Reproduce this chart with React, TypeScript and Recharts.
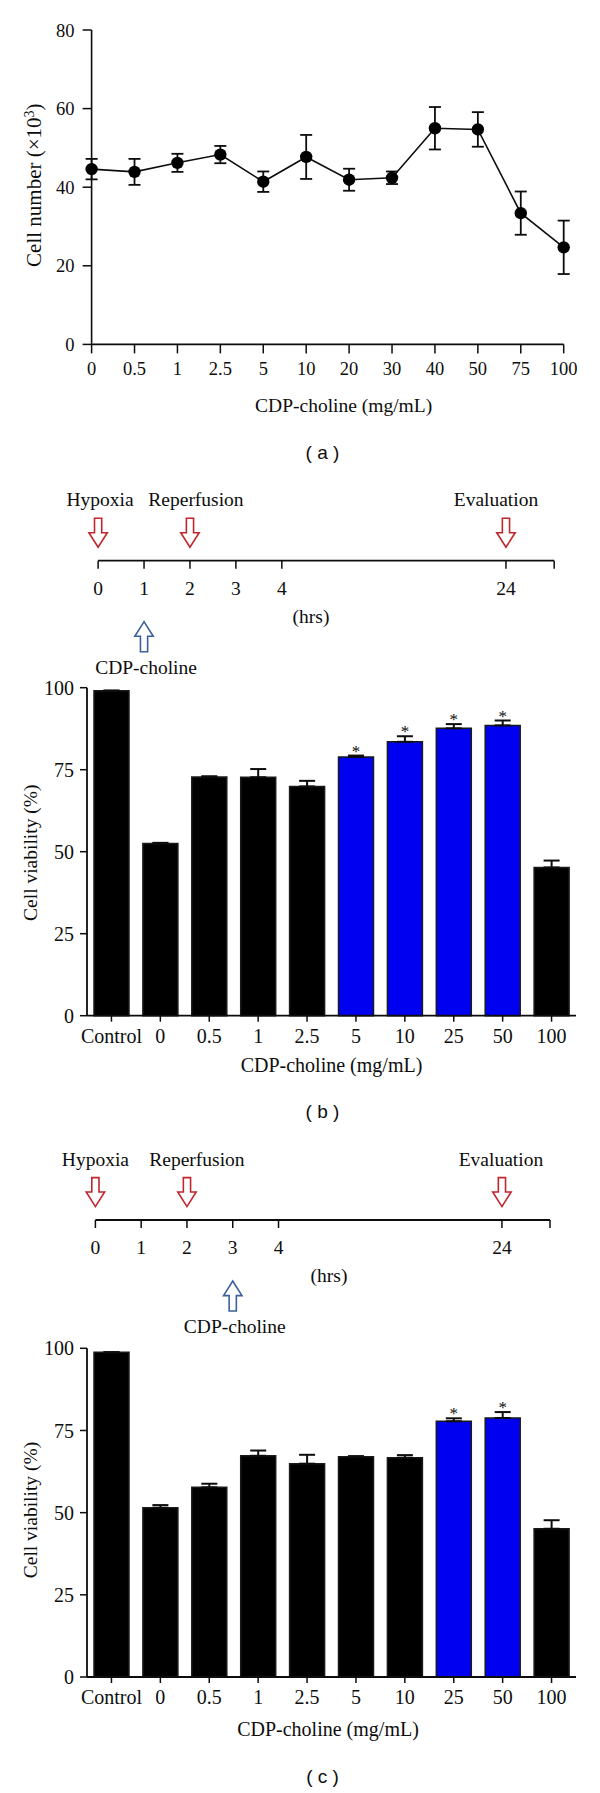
import React from 'react';
import {
  LineChart,
  Line,
  BarChart,
  Bar,
  Cell,
  ComposedChart,
  Scatter,
  XAxis,
  YAxis,
  ErrorBar,
  LabelList,
  Label,
} from 'recharts';

// (a) cell number after 24 h at each dose
const dosesA = ['0', '0.5', '1', '2.5', '5', '10', '20', '30', '40', '50', '75', '100'];
const cellNumber = [44.6, 43.9, 46.2, 48.3, 41.4, 47.7, 41.9, 42.4, 55.0, 54.7, 33.4, 24.7];
const cellNumberErr = [2.6, 3.3, 2.3, 2.2, 2.6, 5.6, 2.8, 1.6, 5.4, 4.4, 5.5, 6.8];
const yTicksA = [0, 20, 40, 60, 80];

// (b) and (c) viability after hypoxia / reperfusion
const dosesBar = ['Control', '0', '0.5', '1', '2.5', '5', '10', '25', '50', '100'];
const viabilityB = [99.1, 52.5, 72.8, 72.7, 69.9, 78.9, 83.5, 87.6, 88.5, 45.2];
const viabilityBErr = [0, 0.2, 0.2, 2.5, 1.7, 0.4, 1.7, 1.3, 1.5, 2.1];
const significantB = ['5', '10', '25', '50'];
const viabilityC = [98.8, 51.5, 57.7, 67.3, 64.9, 67.0, 66.7, 77.8, 78.8, 45.1];
const viabilityCErr = [0, 0.8, 1.1, 1.6, 2.7, 0.2, 0.8, 0.9, 1.8, 2.6];
const significantC = ['25', '50'];
const yTicksBar = [0, 25, 50, 75, 100];

// timelines: axis is broken between 4 h and 24 h
const hourLabels = ['0', '1', '2', '3', '4', '24'];
const hourSlots = [0, 1, 2, 3, 4, 8.88];
const axisEndSlot = 9.93;
const eventNames = ['Hypoxia', 'Reperfusion', 'Evaluation'];
const eventHours = ['0', '2', '24'];
const treatHourB = '1';
const treatHourC = '3';

const SERIF = '"Liberation Serif", "Times New Roman", serif';
const SANS = '"Liberation Sans", Arial, sans-serif';
const INK = '#0d0d0d';
const BAR_BLUE = '#0000f0';
const ARROW_RED = '#c0262d';
const ARROW_BLUE = '#3d5f9a';

const rowsA = dosesA.map((d, i) => ({ dose: d, mean: cellNumber[i], err: cellNumberErr[i] }));

function barRows(values: number[], errs: number[], sig: string[]) {
  return dosesBar.map((d, i) => ({
    dose: d,
    value: values[i],
    err: [0, errs[i]],
    sig: sig.includes(d),
  }));
}

const rowsB = barRows(viabilityB, viabilityBErr, significantB);
const rowsC = barRows(viabilityC, viabilityCErr, significantC);

const slotOf = (h: string) => hourSlots[hourLabels.indexOf(h)];
const hourText = (v: number) => {
  const i = hourSlots.indexOf(v);
  return i >= 0 ? hourLabels[i] : '';
};
const eventRows = eventNames.map((name, i) => ({ slot: slotOf(eventHours[i]), level: 0, name }));

function yTitle(text: React.ReactNode, baseX: number, fontSize: number, dy = 0) {
  return (p: any) => {
    const vb = p.viewBox;
    const cy = vb.y + vb.height / 2 + dy;
    return (
      <text
        x={baseX}
        y={cy}
        transform={`rotate(-90, ${baseX}, ${cy})`}
        textAnchor="middle"
        fontSize={fontSize}
        fill={INK}
      >
        {text}
      </text>
    );
  };
}

function xTitle(text: string, dx: number, below: number, fontSize: number) {
  return (p: any) => {
    const vb = p.viewBox;
    return (
      <text x={vb.x + vb.width / 2 + dx} y={vb.y + below} textAnchor="middle" fontSize={fontSize} fill={INK}>
        {text}
      </text>
    );
  };
}

// asterisk sits just above the error bar cap
function starContent(rows: { sig: boolean }[], errs: number[]) {
  return (p: any) => {
    const vb = p.viewBox || p;
    const i = p.index;
    if (i == null || !rows[i].sig) return null;
    const value = Number(p.value);
    const perUnit = vb.height / value;
    const errTop = vb.y - errs[i] * perUnit;
    return (
      <text x={vb.x + vb.width / 2} y={errTop + 1} textAnchor="middle" fontSize={17} fill={INK}>
        *
      </text>
    );
  };
}

const toPath = (pts: number[][]) => pts.map((pt, i) => `${i ? 'L' : 'M'}${pt[0]},${pt[1]}`).join(' ') + ' Z';

function DownArrow({ cx, cy, text, shift }: any) {
  const tip = cy - 13.4;
  const d = toPath([
    [cx - 3.6, tip - 29],
    [cx + 3.6, tip - 29],
    [cx + 3.6, tip - 14.6],
    [cx + 9.2, tip - 14.6],
    [cx, tip],
    [cx - 9.2, tip - 14.6],
    [cx - 3.6, tip - 14.6],
  ]);
  return (
    <g>
      <path d={d} fill="#fff" stroke={ARROW_RED} strokeWidth={1.6} />
      <text x={cx + shift} y={cy - 54.5} textAnchor="middle" fontSize={19.5} fill={INK}>
        {text}
      </text>
    </g>
  );
}

function UpArrow({ cx, cy, text }: any) {
  const tip = cy + 61;
  const d = toPath([
    [cx, tip],
    [cx + 9.2, tip + 14.6],
    [cx + 3.6, tip + 14.6],
    [cx + 3.6, tip + 30],
    [cx - 3.6, tip + 30],
    [cx - 3.6, tip + 14.6],
    [cx - 9.2, tip + 14.6],
  ]);
  return (
    <g>
      <path d={d} fill="#fff" stroke={ARROW_BLUE} strokeWidth={1.6} />
      <text x={cx + 2} y={cy + 113} textAnchor="middle" fontSize={19.5} fill={INK}>
        {text}
      </text>
    </g>
  );
}

function Timeline({ top, marginTop, plotH, left, right, treatHour, labelShift, hrsDx }: any) {
  const axisH = 125;
  const treatRows = [{ slot: slotOf(treatHour), level: 0, name: 'CDP-choline' }];
  return (
    <div style={{ position: 'absolute', left: 0, top }}>
      <ComposedChart
        width={600}
        height={marginTop + plotH + axisH}
        margin={{ top: marginTop, right, left, bottom: 0 }}
      >
        <XAxis
          type="number"
          dataKey="slot"
          domain={[0, axisEndSlot]}
          ticks={[...hourSlots, axisEndSlot]}
          interval={0}
          tickFormatter={hourText}
          tickSize={8}
          tickMargin={12}
          height={axisH}
          axisLine={{ stroke: INK, strokeWidth: 1.8 }}
          tickLine={{ stroke: INK, strokeWidth: 1.5 }}
          tick={{ fontSize: 19.5, fill: INK }}
        >
          <Label
            content={(p: any) => (
              <text x={p.viewBox.x + hrsDx} y={p.viewBox.y + 62} textAnchor="middle" fontSize={19.5} fill={INK}>
                (hrs)
              </text>
            )}
          />
        </XAxis>
        <YAxis hide type="number" domain={[0, 1]} />
        <Scatter
          data={eventRows}
          dataKey="level"
          isAnimationActive={false}
          shape={(p: any) => (
            <DownArrow
              cx={p.cx}
              cy={p.cy}
              text={p.payload.name}
              shift={labelShift[eventNames.indexOf(p.payload.name)]}
            />
          )}
        />
        <Scatter
          data={treatRows}
          dataKey="level"
          isAnimationActive={false}
          shape={(p: any) => <UpArrow cx={p.cx} cy={p.cy} text={p.payload.name} />}
        />
      </ComposedChart>
    </div>
  );
}

function ViabilityBars({ top, height, marginTop, marginBottom, rows, errs, titleDx, titleBelow, yDy }: any) {
  return (
    <div style={{ position: 'absolute', left: 0, top }}>
      <BarChart
        width={600}
        height={height}
        data={rows}
        margin={{ top: marginTop, right: 24, left: 27, bottom: marginBottom }}
      >
        <XAxis
          dataKey="dose"
          interval={0}
          height={30}
          tickSize={6}
          tickMargin={7}
          axisLine={{ stroke: INK, strokeWidth: 1.8 }}
          tickLine={{ stroke: INK, strokeWidth: 1.5 }}
          tick={{ fontSize: 20, fill: INK }}
        >
          <Label content={xTitle('CDP-choline (mg/mL)', titleDx, titleBelow, 20)} />
        </XAxis>
        <YAxis
          width={60}
          domain={[0, 100]}
          ticks={yTicksBar}
          interval={0}
          tickSize={7}
          tickMargin={6}
          axisLine={{ stroke: INK, strokeWidth: 1.8 }}
          tickLine={{ stroke: INK, strokeWidth: 1.5 }}
          tick={{ fontSize: 20, fill: INK }}
        >
          <Label content={yTitle('Cell viability (%)', 37, 19.5, yDy)} />
        </YAxis>
        <Bar dataKey="value" barSize={35} isAnimationActive={false}>
          {rows.map((r: any) => (
            <Cell key={r.dose} fill={r.sig ? BAR_BLUE : '#000'} stroke="#1a1a1a" strokeWidth={1.5} />
          ))}
          <ErrorBar dataKey="err" direction="y" width={8} stroke={INK} strokeWidth={2} isAnimationActive={false} />
          <LabelList dataKey="value" content={starContent(rows, errs)} />
        </Bar>
      </BarChart>
    </div>
  );
}

function PanelTag({ y, letter }: { y: number; letter: string }) {
  return (
    <div
      style={{
        position: 'absolute',
        left: 322.5,
        top: y - 11,
        transform: 'translateX(-50%)',
        fontFamily: SANS,
        fontSize: 19,
        lineHeight: '19px',
        color: INK,
        whiteSpace: 'pre',
      }}
    >
      {`( ${letter} )`}
    </div>
  );
}

export default function App() {
  return (
    <div
      style={{
        position: 'absolute',
        left: 0,
        top: 0,
        width: 600,
        height: 1793,
        background: '#fff',
        fontFamily: SERIF,
        overflow: 'hidden',
      }}
    >
      <div style={{ position: 'absolute', left: 0, top: 0 }}>
        <LineChart width={600} height={430} data={rowsA} margin={{ top: 30, right: 36.3, left: 31.6, bottom: 55.6 }}>
          <XAxis
            dataKey="dose"
            interval={0}
            height={30}
            tickSize={9}
            tickMargin={8}
            axisLine={{ stroke: INK, strokeWidth: 1.6 }}
            tickLine={{ stroke: INK, strokeWidth: 1.5 }}
            tick={{ fontSize: 18.5, fill: INK }}
          >
            <Label content={xTitle('CDP-choline (mg/mL)', 16, 67.7, 19.5)} />
          </XAxis>
          <YAxis
            width={60}
            domain={[0, 80]}
            ticks={yTicksA}
            interval={0}
            tickSize={9}
            tickMargin={8}
            axisLine={{ stroke: INK, strokeWidth: 1.6 }}
            tickLine={{ stroke: INK, strokeWidth: 1.5 }}
            tick={{ fontSize: 18.5, fill: INK }}
          >
            <Label
              content={yTitle(
                <>
                  Cell number (×10
                  <tspan dy={-7.5} fontSize={14}>
                    3
                  </tspan>
                  <tspan dy={7.5}>)</tspan>
                </>,
                41.5,
                21,
                -2
              )}
            />
          </YAxis>
          <Line
            dataKey="mean"
            stroke={INK}
            strokeWidth={1.6}
            dot={{ r: 6.2, fill: '#000', stroke: '#000', strokeWidth: 0 }}
            activeDot={false}
            isAnimationActive={false}
          >
            <ErrorBar dataKey="err" direction="y" width={6} stroke={INK} strokeWidth={1.8} isAnimationActive={false} />
          </Line>
        </LineChart>
      </div>
      <PanelTag y={454} letter="a" />

      <Timeline
        top={480}
        marginTop={10}
        plotH={70.7}
        left={98.1}
        right={45.8}
        treatHour={treatHourB}
        labelShift={[2, 6, -10]}
        hrsDx={212.9}
      />
      <ViabilityBars
        top={670}
        height={420}
        marginTop={17.7}
        marginBottom={44.3}
        rows={rowsB}
        errs={viabilityBErr}
        titleDx={0}
        titleBelow={56}
        yDy={1}
      />
      <PanelTag y={1113} letter="b" />

      <Timeline
        top={1140}
        marginTop={5}
        plotH={75}
        left={95.4}
        right={50}
        treatHour={treatHourC}
        labelShift={[0, 10, -1]}
        hrsDx={233.6}
      />
      <ViabilityBars
        top={1330}
        height={430}
        marginTop={18.3}
        marginBottom={53}
        rows={rowsC}
        errs={viabilityCErr}
        titleDx={-3.5}
        titleBelow={59}
        yDy={-2.6}
      />
      <PanelTag y={1778} letter="c" />
    </div>
  );
}
